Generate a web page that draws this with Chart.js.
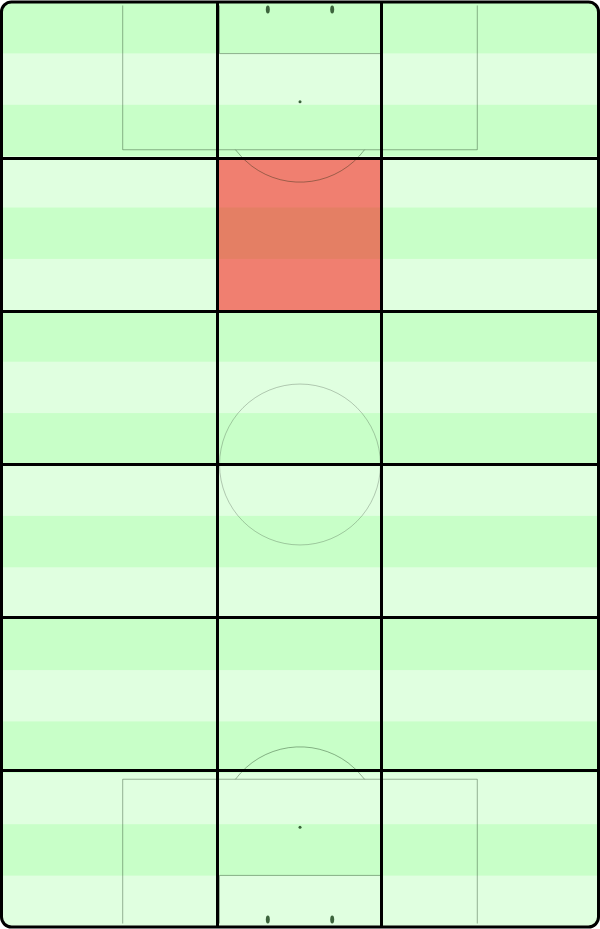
<!DOCTYPE html>
<html>
<head>
<meta charset="utf-8">
<script src="https://cdn.jsdelivr.net/npm/chart.js@4"></script>
<style>
  html, body { margin: 0; padding: 0; background: #fff; }
  #wrap { width: 600px; height: 929px; position: relative; }
</style>
</head>
<body>
<div id="wrap"><canvas id="pitchChart"></canvas></div>
<script>
// zone edges in metres (pitch is 68 x 105, goal at the top)
const colEdges = [0, 24.6, 43.3, 68];
const rowEdges = [0, 17.5, 35, 52.5, 70, 87.5, 105];
// number of actions in each zone, rows from the top goal line
const zoneCounts = [
    [0, 0, 0],
    [0, 1, 0],
    [0, 0, 0],
    [0, 0, 0],
    [0, 0, 0],
    [0, 0, 0]
];

const PITCH_W = 68, PITCH_L = 105;
const stripeCount = 18;
const stripeLight = '#e0ffe0';
const stripeDark = '#c8ffc8';
const lineColor = 'rgba(0, 30, 0, 0.35)';

// one filled line per zone: top edge, filled down to the bottom edge
const maxCount = Math.max(...zoneCounts.flat());
const datasets = [];
zoneCounts.forEach((row, r) => {
    row.forEach((count, c) => {
        const a = count > 0 ? 0.5 * count / maxCount : 0;
        datasets.push({
            data: [{ x: colEdges[c], y: rowEdges[r] }, { x: colEdges[c + 1], y: rowEdges[r] }],
            fill: { value: rowEdges[r + 1] },
            backgroundColor: `rgba(255, 0, 0, ${a})`,
            borderWidth: 0,
            pointRadius: 0,
            tension: 0
        });
    });
});

function roundRect(ctx, x, y, w, h, r) {
    ctx.beginPath();
    ctx.moveTo(x + r, y);
    ctx.arcTo(x + w, y, x + w, y + h, r);
    ctx.arcTo(x + w, y + h, x, y + h, r);
    ctx.arcTo(x, y + h, x, y, r);
    ctx.arcTo(x, y, x + w, y, r);
    ctx.closePath();
}

const pitchPlugin = {
    id: 'pitch',
    beforeDatasetsDraw(chart) {
        const { ctx, chartArea: a } = chart;
        ctx.save();
        roundRect(ctx, a.left, a.top, a.right - a.left, a.bottom - a.top, 10);
        ctx.clip();
        const step = (a.bottom - a.top) / stripeCount;
        for (let i = 0; i < stripeCount; i++) {
            ctx.fillStyle = i % 2 === 0 ? stripeDark : stripeLight;
            ctx.fillRect(a.left, a.top + i * step, a.right - a.left, step + 1);
        }
        ctx.restore();
    },
    afterDatasetsDraw(chart) {
        const { ctx, scales: { x, y } } = chart;
        const px = v => x.getPixelForValue(v);
        const py = v => y.getPixelForValue(v);
        const sx = x.getPixelForValue(1) - x.getPixelForValue(0);
        ctx.save();
        ctx.strokeStyle = lineColor;
        ctx.lineWidth = 1;
        const box = (w, d, top) => {
            const y0 = top ? 0 : PITCH_L, y1 = top ? d : PITCH_L - d;
            ctx.beginPath();
            ctx.moveTo(px(34 - w / 2), py(y0));
            ctx.lineTo(px(34 - w / 2), py(y1));
            ctx.lineTo(px(34 + w / 2), py(y1));
            ctx.lineTo(px(34 + w / 2), py(y0));
            ctx.stroke();
        };
        [true, false].forEach(top => {
            box(40.32, 16.5, top);
            box(18.32, 5.5, top);
            // penalty arc outside the box
            const spotY = top ? 11 : PITCH_L - 11;
            const edge = top ? 16.5 : PITCH_L - 16.5;
            const r = 9.15 * sx;
            const cy = py(spotY);
            const dy = Math.abs(py(edge) - cy);
            const ang = Math.acos(Math.min(1, dy / r));
            ctx.beginPath();
            if (top) ctx.arc(px(34), cy, r, Math.PI / 2 - ang, Math.PI / 2 + ang);
            else ctx.arc(px(34), cy, r, -Math.PI / 2 - ang, -Math.PI / 2 + ang);
            ctx.stroke();
            // penalty spot
            ctx.fillStyle = 'rgba(40, 80, 40, 0.9)';
            ctx.beginPath();
            ctx.arc(px(34), cy, 1.5, 0, Math.PI * 2);
            ctx.fill();
            // goal posts
            ctx.fillStyle = 'rgb(60, 100, 60)';
            [34 - 3.66, 34 + 3.66].forEach(gx => {
                ctx.beginPath();
                ctx.ellipse(px(gx), py(top ? 0.45 : PITCH_L - 0.45), 2, 4, 0, 0, Math.PI * 2);
                ctx.fill();
            });
        });
        // centre circle
        ctx.strokeStyle = 'rgba(0, 0, 0, 0.22)';
        ctx.beginPath();
        ctx.arc(px(34), py(52.5), 9.15 * sx, 0, Math.PI * 2);
        ctx.stroke();
        ctx.restore();
    },
    afterDraw(chart) {
        const { ctx, chartArea: a } = chart;
        ctx.save();
        ctx.strokeStyle = '#000';
        ctx.lineWidth = 3;
        roundRect(ctx, a.left + 0.5, a.top, a.right - a.left - 1, a.bottom - a.top, 10);
        ctx.stroke();
        ctx.restore();
    }
};

new Chart(document.getElementById('pitchChart'), {
    type: 'line',
    data: { datasets: datasets },
    plugins: [pitchPlugin],
    options: {
        responsive: true,
        maintainAspectRatio: false,
        animation: false,
        layout: { padding: { left: 1, right: 1, top: 2, bottom: 2 } },
        plugins: { legend: { display: false }, tooltip: { enabled: false } },
        scales: {
            x: {
                type: 'linear',
                min: 0,
                max: PITCH_W,
                afterBuildTicks: s => { s.ticks = colEdges.slice(1, -1).map(v => ({ value: v })); },
                ticks: { display: false },
                grid: { color: '#000', lineWidth: 3, drawTicks: false, z: 1 },
                border: { display: false }
            },
            y: {
                type: 'linear',
                reverse: true,
                min: -0.4,
                max: PITCH_L + 0.4,
                afterBuildTicks: s => { s.ticks = rowEdges.slice(1, -1).map(v => ({ value: v })); },
                ticks: { display: false },
                grid: { color: '#000', lineWidth: 3, drawTicks: false, z: 1 },
                border: { display: false }
            }
        }
    }
});
</script>
</body>
</html>
